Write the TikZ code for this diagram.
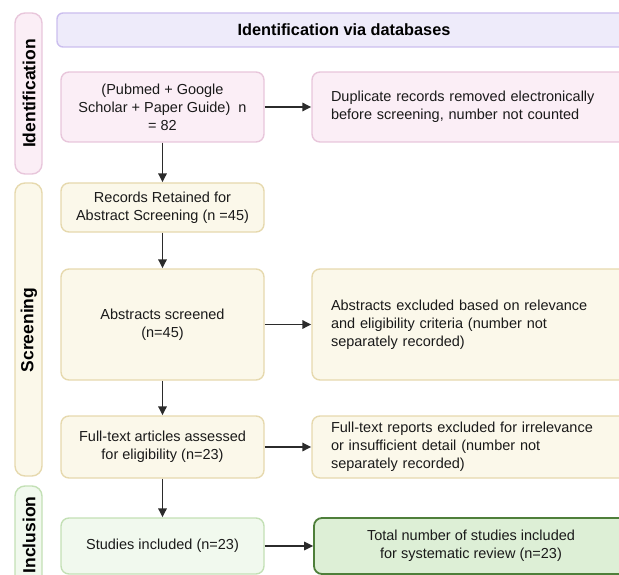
\documentclass[tikz,border=0pt]{standalone}
\usepackage{fontspec}
\setmainfont{Liberation Sans}
\usetikzlibrary{arrows.meta}

\definecolor{bannerfill}{HTML}{EEEBFA}
\definecolor{bannerline}{HTML}{CBBEEE}
\definecolor{pinkfill}{HTML}{FBEEF6}
\definecolor{pinkline}{HTML}{E8C6DB}
\definecolor{yelfill}{HTML}{FBF8EA}
\definecolor{yelline}{HTML}{E6D9AE}
\definecolor{grnfill}{HTML}{F1F9EE}
\definecolor{grnline}{HTML}{C3E0B5}
\definecolor{finalfill}{HTML}{DDEFD6}
\definecolor{finalline}{HTML}{4E7F3A}
\definecolor{arrowcol}{HTML}{2B2B2B}
\definecolor{textcol}{HTML}{1A1A1A}

\tikzset{
  box/.style={draw, rounded corners=8pt, line width=1.4pt, inner sep=0pt,
    font=\fontsize{14.5}{18}\selectfont, align=center, text=textcol},
  leftbox/.style={box, align=left, text width=278pt, inner xsep=19pt},
  pinkbox/.style={fill=pinkfill, draw=pinkline},
  yelbox/.style={fill=yelfill, draw=yelline},
  grnbox/.style={fill=grnfill, draw=grnline},
  finalbox/.style={fill=finalfill, draw=finalline, line width=1.8pt},
  lane/.style={draw, rounded corners=10pt, line width=1.4pt,
    minimum width=27pt, inner sep=0pt},
  lanelabel/.style={rotate=90, font=\fontsize{17.5}{20}\bfseries\selectfont},
  flow/.style={draw=arrowcol, line width=1.6pt,
    -{Triangle[length=9pt,width=8.5pt]}}
}

\begin{document}
\begin{tikzpicture}[x=1pt,y=-1pt]
\useasboundingbox (0,0) rectangle (619,575);
\clip (0,0) rectangle (619,575);

% header banner
\node[draw=bannerline, fill=bannerfill, rounded corners=6pt, line width=1.4pt,
  minimum width=572pt, minimum height=34pt, inner sep=0pt] (banner) at (343,30) {};
\node[font=\fontsize{16.3}{18}\bfseries\selectfont] (title) at (344,30) {Identification via databases};

% phase lanes
\node[lane, draw=pinkline, fill=pinkfill, minimum height=161pt] (laneid) at (28.5,93.5) {};
\node[lanelabel] (laneidt) at (29,93.5) {Identification};
\node[lane, draw=yelline, fill=yelfill, minimum height=293pt] (lanescr) at (28.5,329.5) {};
\node[lanelabel] (lanescrt) at (29,330) {Screening};
\node[lane, draw=grnline, fill=grnfill, minimum height=110pt] (laneinc) at (28.5,541) {};
\node[lanelabel] (laneinct) at (29,535) {Inclusion};

% left column
\node[box, pinkbox, minimum width=203pt, minimum height=70pt] (a) at (162.5,107)
  {(Pubmed + Google\\Scholar + Paper Guide)\ \ n\\= 82};
\node[box, yelbox, minimum width=203pt, minimum height=49pt] (c) at (162.5,207.5)
  {Records Retained for\\Abstract Screening (n =45)};
\node[box, yelbox, minimum width=203pt, minimum height=111pt] (d) at (162.5,324.5)
  {Abstracts screened\\(n=45)};
\node[box, yelbox, minimum width=203pt, minimum height=62pt] (f) at (162.5,447)
  {Full-text articles assessed\\for eligibility (n=23)};
\node[box, grnbox, minimum width=203pt, minimum height=56pt] (h) at (162.5,546)
  {Studies included (n=23)};

% right column
\node[leftbox, pinkbox, minimum height=70pt] (b) at (470,107)
  {Duplicate records removed electronically\\before screening, number not counted};
\node[leftbox, yelbox, minimum height=111pt] (e) at (470,324.5)
  {Abstracts excluded based on relevance\\and eligibility criteria (number not\\separately recorded)};
\node[leftbox, yelbox, minimum height=62pt] (g) at (470,447)
  {Full-text reports excluded for irrelevance\\or insufficient detail (number not\\separately recorded)};
\node[box, finalbox, minimum width=314pt, minimum height=56pt] (i) at (471,546)
  {Total number of studies included\\for systematic review (n=23)};

% connectors
\draw[flow] (a) -- (c);
\draw[flow] (c) -- (d);
\draw[flow] (d) -- (f);
\draw[flow] (f) -- (h);
\draw[flow] (a) -- (b);
\draw[flow] (d) -- (e);
\draw[flow] (f) -- (g);
\draw[flow] (h) -- (i);
\end{tikzpicture}
\end{document}
